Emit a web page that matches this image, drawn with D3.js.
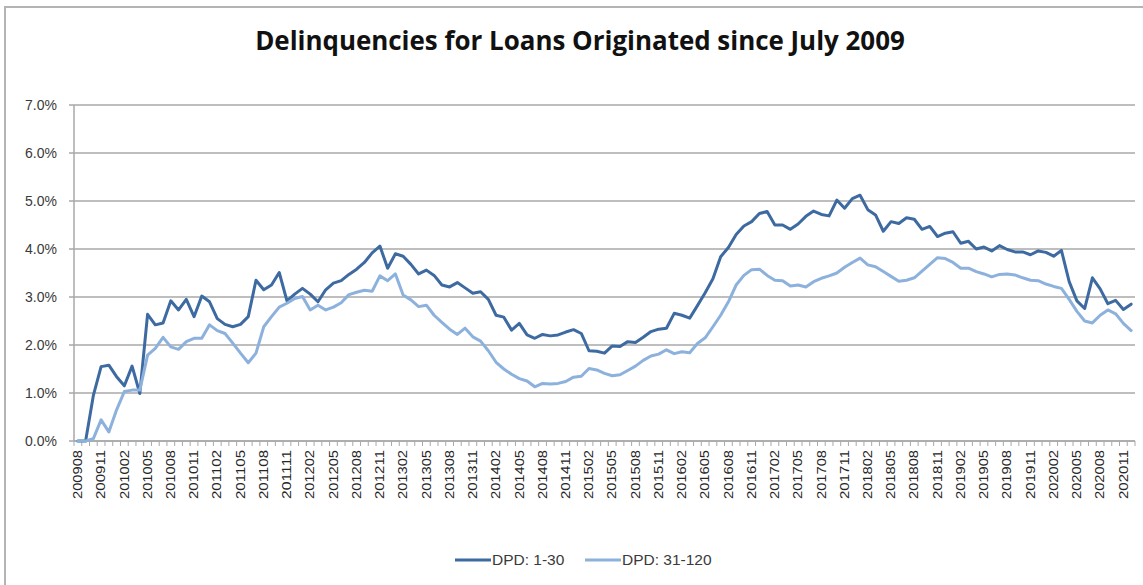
<!DOCTYPE html>
<html>
<head>
<meta charset="utf-8">
<script src="https://cdn.jsdelivr.net/npm/d3@7"></script>
<style>
  body { margin: 0; background: #fff; }
  svg { display: block; }
</style>
</head>
<body>
<div id="chart"></div>
<script>
// months on the category axis (yyyymm)
const months = [
  "200908","200909","200910","200911","200912",
  "201001","201002","201003","201004","201005","201006","201007","201008","201009","201010","201011","201012",
  "201101","201102","201103","201104","201105","201106","201107","201108","201109","201110","201111","201112",
  "201201","201202","201203","201204","201205","201206","201207","201208","201209","201210","201211","201212",
  "201301","201302","201303","201304","201305","201306","201307","201308","201309","201310","201311","201312",
  "201401","201402","201403","201404","201405","201406","201407","201408","201409","201410","201411","201412",
  "201501","201502","201503","201504","201505","201506","201507","201508","201509","201510","201511","201512",
  "201601","201602","201603","201604","201605","201606","201607","201608","201609","201610","201611","201612",
  "201701","201702","201703","201704","201705","201706","201707","201708","201709","201710","201711","201712",
  "201801","201802","201803","201804","201805","201806","201807","201808","201809","201810","201811","201812",
  "201901","201902","201903","201904","201905","201906","201907","201908","201909","201910","201911","201912",
  "202001","202002","202003","202004","202005","202006","202007","202008","202009","202010","202011","202012"
];

// delinquency rates in percent
const dpd1to30 = [
  0.00, 0.00, 0.95, 1.55, 1.58, 1.34, 1.15, 1.56, 0.99, 2.64, 2.42, 2.46, 2.92, 2.73, 2.95, 2.59,
  3.02, 2.90, 2.55, 2.43, 2.38, 2.43, 2.59, 3.35, 3.15, 3.25, 3.51, 2.92, 3.06, 3.18, 3.06, 2.90,
  3.15, 3.29, 3.34, 3.47, 3.58, 3.72, 3.92, 4.06, 3.60, 3.90, 3.85, 3.68, 3.48, 3.56, 3.45, 3.25,
  3.21, 3.30, 3.19, 3.08, 3.11, 2.95, 2.62, 2.58, 2.31, 2.45, 2.21, 2.14, 2.22, 2.19, 2.21, 2.27,
  2.32, 2.24, 1.88, 1.87, 1.83, 1.98, 1.97, 2.07, 2.05, 2.16, 2.28, 2.33, 2.35, 2.66, 2.62, 2.56,
  2.82, 3.09, 3.38, 3.84, 4.03, 4.30, 4.48, 4.57, 4.74, 4.78, 4.50, 4.50, 4.41, 4.52, 4.68, 4.79,
  4.72, 4.69, 5.02, 4.85, 5.05, 5.12, 4.82, 4.71, 4.37, 4.57, 4.53, 4.65, 4.62, 4.41, 4.47, 4.26,
  4.33, 4.36, 4.12, 4.16, 4.00, 4.04, 3.96, 4.07, 3.99, 3.94, 3.94, 3.88, 3.96, 3.93, 3.85, 3.97,
  3.32, 2.92, 2.76, 3.40, 3.17, 2.86, 2.93, 2.74, 2.85
];

const dpd31to120 = [
  0.00, 0.00, 0.05, 0.44, 0.19, 0.65, 1.03, 1.06, 1.06, 1.79, 1.93, 2.16, 1.96, 1.91, 2.07, 2.14,
  2.14, 2.42, 2.30, 2.24, 2.04, 1.83, 1.63, 1.83, 2.38, 2.59, 2.79, 2.87, 2.97, 3.01, 2.73, 2.83,
  2.73, 2.79, 2.88, 3.05, 3.10, 3.14, 3.12, 3.44, 3.34, 3.48, 3.04, 2.94, 2.80, 2.83, 2.62, 2.47,
  2.33, 2.22, 2.35, 2.17, 2.08, 1.88, 1.64, 1.50, 1.39, 1.30, 1.25, 1.13, 1.20, 1.19, 1.20, 1.24,
  1.33, 1.35, 1.51, 1.48, 1.41, 1.36, 1.38, 1.47, 1.56, 1.68, 1.77, 1.81, 1.90, 1.82, 1.86, 1.84,
  2.03, 2.15, 2.38, 2.62, 2.90, 3.25, 3.45, 3.57, 3.58, 3.45, 3.35, 3.34, 3.23, 3.25, 3.21, 3.32,
  3.39, 3.44, 3.50, 3.62, 3.72, 3.81, 3.67, 3.63, 3.53, 3.43, 3.33, 3.35, 3.40, 3.54, 3.68, 3.82,
  3.80, 3.72, 3.60, 3.60, 3.53, 3.48, 3.42, 3.47, 3.48, 3.46, 3.40, 3.35, 3.34, 3.27, 3.22, 3.18,
  2.95, 2.70, 2.50, 2.46, 2.62, 2.73, 2.65, 2.45, 2.30
];

const yTicks = [0, 1, 2, 3, 4, 5, 6, 7];
const seriesNames = ["DPD: 1-30", "DPD: 31-120"];
const seriesColors = ["#3d6aa1", "#8db1dd"];
const titleText = "Delinquencies for Loans Originated since July 2009";

const width = 1143, height = 585;
const plot = { left: 74, right: 1135, top: 105, bottom: 441 };

const svg = d3.select("#chart").append("svg")
    .attr("width", width)
    .attr("height", height);

// outer chart frame
svg.append("rect")
    .attr("x", 5).attr("y", 7)
    .attr("width", width + 10).attr("height", height + 10)
    .attr("fill", "#fff")
    .attr("stroke", "#b4b4b4")
    .attr("stroke-width", 2);

// title, sized to match the original width
const title = svg.append("text")
    .attr("x", 580).attr("y", 50)
    .attr("text-anchor", "middle")
    .style("font-family", "'Open Sans', sans-serif")
    .style("font-weight", "bold")
    .style("font-size", "22px")
    .style("fill", "#111")
    .text(titleText);
const titleLen = title.node().getComputedTextLength();
title.style("font-size", (22 * 650 / titleLen) + "px");

const x = d3.scaleBand().domain(months).range([plot.left, plot.right]);
const y = d3.scaleLinear().domain([0, 7]).range([plot.bottom, plot.top]);
const bw = x.bandwidth();

// horizontal gridlines (with the small outside tick)
svg.append("g").selectAll("line")
    .data(yTicks)
    .join("line")
    .attr("x1", plot.left - 5).attr("x2", plot.right)
    .attr("y1", d => y(d)).attr("y2", d => y(d))
    .attr("stroke", "#a9a9a9")
    .attr("stroke-width", 1.5);

// y axis line
svg.append("line")
    .attr("x1", plot.left).attr("x2", plot.left)
    .attr("y1", plot.top).attr("y2", plot.bottom)
    .attr("stroke", "#a9a9a9")
    .attr("stroke-width", 1.5);

// y labels
svg.append("g").selectAll("text")
    .data(yTicks)
    .join("text")
    .attr("x", 57)
    .attr("y", d => y(d))
    .attr("dy", "0.35em")
    .attr("text-anchor", "end")
    .style("font-family", "'Liberation Sans', Arial, sans-serif")
    .style("font-size", "14px")
    .style("fill", "#3a3a3a")
    .text(d => d3.format(".1f")(d) + "%");

// x axis tick marks at category boundaries
const boundaries = months.map(m => x(m)).concat([plot.right]);
svg.append("g").selectAll("line")
    .data(boundaries)
    .join("line")
    .attr("x1", d => d).attr("x2", d => d)
    .attr("y1", plot.bottom).attr("y2", plot.bottom + 5)
    .attr("stroke", "#a9a9a9")
    .attr("stroke-width", 1);

svg.append("line")
    .attr("x1", plot.left).attr("x2", plot.right)
    .attr("y1", plot.bottom).attr("y2", plot.bottom)
    .attr("stroke", "#a9a9a9")
    .attr("stroke-width", 1.5);

// x labels every third month, rotated
const tickLabels = months.filter((m, i) => i % 3 === 0);
svg.append("g").selectAll("text")
    .data(tickLabels)
    .join("text")
    .attr("transform", d => "translate(" + (x(d) + bw / 2) + "," + (plot.bottom + 9) + ") rotate(-90)")
    .attr("dy", "0.35em")
    .attr("text-anchor", "end")
    .attr("textLength", 49)
    .attr("lengthAdjust", "spacingAndGlyphs")
    .style("font-family", "'Liberation Sans', Arial, sans-serif")
    .style("font-size", "12px")
    .style("fill", "#262626")
    .text(d => d);

// series lines
const line = d3.line()
    .x((d, i) => x(months[i]) + bw / 2)
    .y(d => y(d));

[dpd1to30, dpd31to120].forEach(function(values, k) {
    svg.append("path")
        .datum(values)
        .attr("d", line)
        .attr("fill", "none")
        .attr("stroke", seriesColors[k])
        .attr("stroke-width", 3)
        .attr("stroke-linejoin", "round")
        .attr("stroke-linecap", "round");
});

// legend
const legendX = [455, 585];
const legend = svg.append("g").selectAll("g")
    .data(seriesNames)
    .join("g")
    .attr("transform", (d, i) => "translate(" + legendX[i] + ",560)");
legend.append("line")
    .attr("x1", 0).attr("x2", 36)
    .attr("stroke", (d, i) => seriesColors[i])
    .attr("stroke-width", 3);
legend.append("text")
    .attr("x", 37)
    .attr("dy", "0.35em")
    .style("font-family", "'Liberation Sans', Arial, sans-serif")
    .style("font-size", "15.5px")
    .style("fill", "#3a3a3a")
    .text(d => d);
</script>
</body>
</html>
